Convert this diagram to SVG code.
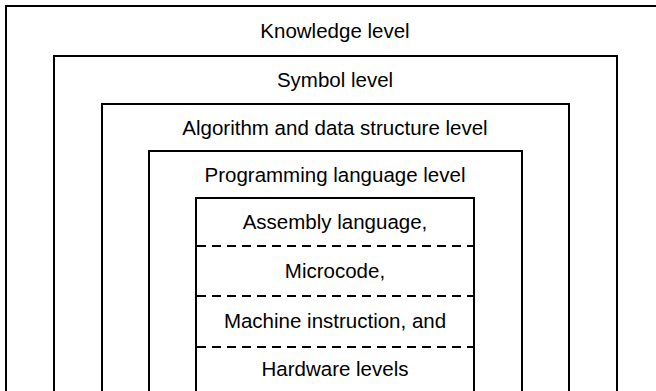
<svg xmlns="http://www.w3.org/2000/svg" width="656" height="391" viewBox="0 0 656 391">
<style>
.frame{fill:none;stroke:#000;stroke-width:2}
.sep{fill:none;stroke:#000;stroke-width:1.8;stroke-dasharray:9 6}
text{font-family:"Liberation Sans",Arial,sans-serif;font-size:20.5px;fill:#000;text-anchor:middle}
</style>
<rect width="656" height="391" fill="#fff"/>
<g id="knowledge-level">
<path class="frame" d="M6,392 V6 H660"/>
<text x="335" y="38">Knowledge level</text>
</g>
<g id="symbol-level">
<path class="frame" d="M54,392 V56 H617 V392"/>
<text x="335" y="87">Symbol level</text>
</g>
<g id="algorithm-level">
<path class="frame" d="M102,392 V104 H569 V392"/>
<text x="335" y="135">Algorithm and data structure level</text>
</g>
<g id="programming-level">
<path class="frame" d="M149,392 V151 H522 V392"/>
<text x="335" y="182">Programming language level</text>
</g>
<g id="hardware-levels">
<path class="frame" d="M196,392 V198 H474 V392"/>
<text x="335" y="229">Assembly language,</text>
<text x="335" y="278">Microcode,</text>
<text x="335" y="328">Machine instruction, and</text>
<text x="335" y="376">Hardware levels</text>
</g>
<g id="connectors">
<line class="sep" x1="197" y1="246" x2="474" y2="246"/>
<line class="sep" x1="197" y1="296" x2="474" y2="296"/>
<line class="sep" x1="197" y1="347" x2="474" y2="347"/>
</g>
</svg>
